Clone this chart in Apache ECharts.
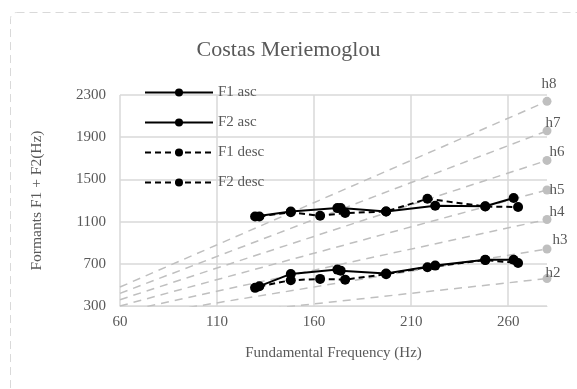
<!DOCTYPE html>
<html>
<head>
<meta charset="utf-8">
<script src="https://cdn.jsdelivr.net/npm/echarts@6/dist/echarts.min.js"></script>
<style>
  html, body { margin: 0; padding: 0; background: #fff; }
  #chart { width: 577px; height: 389px; }
</style>
</head>
<body>
<div id="chart"></div>
<script>
// data
const freqAsc = [129.6, 148.0, 172.0, 173.7, 197.1, 222.4, 248.2, 262.8];
const f1Asc = [472, 604, 645, 635, 608, 683, 739, 739];
const f2Asc = [1149, 1196, 1228, 1228, 1196, 1250, 1245, 1323];
const freqDesc = [131.8, 148.0, 163.1, 176.0, 197.1, 218.4, 248.2, 265.1];
const f1Desc = [487, 544, 557, 550, 602, 667, 735, 708];
const f2Desc = [1149, 1188, 1155, 1181, 1196, 1316, 1243, 1238];

// harmonic guide lines h2..h8 (start at 60 Hz, end at 280 Hz)
const harmNames = ['h2', 'h3', 'h4', 'h5', 'h6', 'h7', 'h8'];
const harmFreq = [60, 280];
const harmStart = [120, 180, 240, 300, 360, 420, 480];
const harmEnd = [560, 840, 1120, 1400, 1680, 1960, 2240];
// label offsets for the h labels
const harmLabelOffset = [[6, -6], [13, -9], [10, -7], [10, 0], [10, -8], [6, -8], [2, -17]];

const serif = 'Liberation Serif';
const grey = '#595959';

const myChart = echarts.init(document.getElementById('chart'));

const zip = (xs, ys) => xs.map((x, i) => [x, ys[i]]);

const harmSeries = harmNames.map((name, i) => ({
	name: name,
	type: 'line',
	silent: true,
	animation: false,
	clip: true,
	data: [
		{ value: [harmFreq[0], harmStart[i]], symbol: 'none' },
		{ value: [harmFreq[1], harmEnd[i]], symbol: 'circle' }
	],
	symbolSize: 9,
	showAllSymbol: true,
	lineStyle: { color: '#bfbfbf', width: 1.5, type: [8, 6] },
	itemStyle: { color: '#bfbfbf' },
	label: {
		show: true,
		position: 'inside',
		offset: harmLabelOffset[i],
		formatter: function (p) { return p.dataIndex === 1 ? name : ''; },
		color: grey,
		fontFamily: serif,
		fontSize: 15
	}
}));

function dataSeries(name, xs, ys, dashed) {
	return {
		name: name,
		type: 'line',
		data: zip(xs, ys),
		symbol: 'circle',
		symbolSize: 10,
		showAllSymbol: true,
		animation: false,
		lineStyle: { color: '#000', width: 2, type: dashed ? [6, 4] : 'solid' },
		itemStyle: { color: '#000' }
	};
}

const option = {
	animation: false,
	backgroundColor: '#fff',
	title: {
		text: 'Costas Meriemoglou',
		left: 'center',
		top: 34,
		textStyle: { fontFamily: serif, fontSize: 22, fontWeight: 'normal', color: grey }
	},
	legend: {
		data: ['F1 asc', 'F2 asc', 'F1 desc', 'F2 desc'],
		orient: 'vertical',
		left: 139,
		top: 80,
		itemWidth: 68,
		itemHeight: 10,
		itemGap: 15,
		textStyle: { fontFamily: serif, fontSize: 15, color: grey }
	},
	graphic: [{
		type: 'rect',
		shape: { x: 10.5, y: 12.5, width: 620, height: 420, r: 6 },
		style: { fill: 'none', stroke: '#d9d9d9', lineWidth: 1, lineDash: [8, 5] },
		silent: true,
		z: -1
	}],
	grid: { left: 120, right: 30, top: 95, bottom: 83 },
	xAxis: {
		type: 'value',
		min: 60,
		max: 280,
		interval: 50,
		name: 'Fundamental Frequency (Hz)',
		nameLocation: 'middle',
		nameGap: 40,
		nameTextStyle: { fontFamily: serif, fontSize: 15, color: grey },
		axisLine: { show: true, lineStyle: { color: '#d9d9d9' } },
		axisTick: { show: false },
		axisLabel: {
			fontFamily: serif, fontSize: 15, color: grey, margin: 9,
			formatter: function (v) { return v === 280 ? '' : String(v); }
		},
		splitLine: { show: true, showMaxLine: false, lineStyle: { color: '#d9d9d9', width: 1.5 } }
	},
	yAxis: {
		type: 'value',
		min: 300,
		max: 2300,
		interval: 400,
		name: 'Formants F1 + F2(Hz)',
		nameLocation: 'middle',
		nameGap: 75,
		nameTextStyle: { fontFamily: serif, fontSize: 15.5, color: grey },
		axisLine: { show: false },
		axisTick: { show: false },
		axisLabel: {
			fontFamily: serif, fontSize: 15, color: grey, margin: 14,
			formatter: function (v) { return String(v); }
		},
		splitLine: { show: true, lineStyle: { color: '#d9d9d9', width: 1.5 } }
	},
	series: harmSeries.concat([
		dataSeries('F1 asc', freqAsc, f1Asc, false),
		dataSeries('F2 asc', freqAsc, f2Asc, false),
		dataSeries('F1 desc', freqDesc, f1Desc, true),
		dataSeries('F2 desc', freqDesc, f2Desc, true)
	])
};

myChart.setOption(option);
</script>
</body>
</html>
